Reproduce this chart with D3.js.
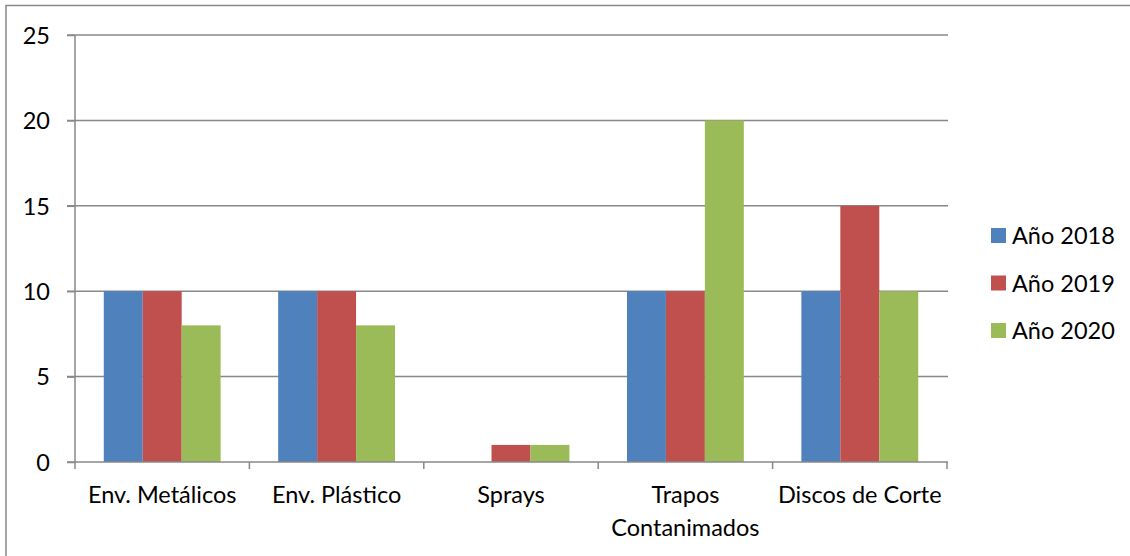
<!DOCTYPE html>
<html><head><meta charset="utf-8">
<script src="https://cdn.jsdelivr.net/npm/d3@7"></script>
<style>body{margin:0;background:#fff}svg{display:block}text{font-family:Lato,"Open Sans",sans-serif;fill:#000}</style>
</head><body>
<svg id="c" width="1130" height="556"></svg>
<script>
const categories = ["Env. Metálicos","Env. Plástico","Sprays","Trapos Contanimados","Discos de Corte"];
const seriesNames = ["Año 2018","Año 2019","Año 2020"];
const s2018 = [10,10,0,10,10];
const s2019 = [10,10,1,10,15];
const s2020 = [8,8,1,20,10];
const yTicks = [0,5,10,15,20,25];
const colors = ["#4F81BD","#C0504D","#9BBB59"];
const series = [s2018,s2019,s2020];

const svg = d3.select("#c");
const L=75,R=947,T=35,B=462;
const FS=23.5;
svg.append("rect").attr("x",6).attr("y",5.5).attr("width",1140).attr("height",560)
  .attr("fill","none").attr("stroke","#888").attr("stroke-width",1.5);

const x = d3.scaleBand().domain(categories).range([L,R]).paddingInner(0.33).paddingOuter(0.165);
const xg = d3.scaleBand().domain(seriesNames).range([0,x.bandwidth()]);
const y = d3.scaleLinear().domain([0,25]).range([B,T]);

// gridlines
svg.append("g").selectAll("line").data(yTicks.filter(d=>d>0)).join("line")
  .attr("x1",L-8).attr("x2",R+1).attr("y1",d=>y(d)).attr("y2",d=>y(d))
  .attr("stroke","#888").attr("stroke-width",1.5);

// bars
const gs = svg.append("g").selectAll("g").data(categories).join("g")
  .attr("transform",c=>`translate(${x(c)},0)`);
gs.selectAll("rect").data((c,i)=>series.map((s,k)=>({k,v:s[i]}))).join("rect")
  .attr("x",d=>xg(seriesNames[d.k])).attr("width",xg.bandwidth())
  .attr("y",d=>y(d.v)).attr("height",d=>B-y(d.v))
  .attr("fill",d=>colors[d.k]);

// y axis
const ya = svg.append("g").attr("transform",`translate(${L},0)`)
  .call(d3.axisLeft(y).tickValues(yTicks).tickSize(8).tickPadding(17));
ya.select(".domain").attr("stroke","#888").attr("stroke-width",1.5).attr("d",`M0,${T}V${B}`);
ya.selectAll(".tick line").attr("stroke","#888").attr("stroke-width",1.5);
ya.selectAll(".tick text").attr("font-size",FS).attr("font-family","Lato,sans-serif").attr("fill","#000").attr("dy","0.35em");

// x axis
const xa = svg.append("g").attr("transform",`translate(0,${B})`);
xa.append("line").attr("x1",L-8).attr("x2",R+1).attr("y1",0).attr("y2",0).attr("stroke","#888").attr("stroke-width",1.5);
const step = x.step();
xa.selectAll("line.t").data(d3.range(categories.length+1)).join("line").attr("class","t")
  .attr("x1",i=>L+i*step).attr("x2",i=>L+i*step).attr("y1",0).attr("y2",7)
  .attr("stroke","#888").attr("stroke-width",1.5);
const labelLines = {"Trapos Contanimados":["Trapos","Contanimados"]};
xa.selectAll("text").data(categories).join("text")
  .attr("text-anchor","middle").attr("font-size",FS)
  .attr("x",c=>x(c)+x.bandwidth()/2).attr("y",41)
  .each(function(c){
    const lines = labelLines[c]||[c];
    d3.select(this).selectAll("tspan").data(lines).join("tspan")
      .attr("x",x(c)+x.bandwidth()/2).attr("dy",(d,i)=>i?33:0).text(d=>d);
  });

// legend
const lg = svg.append("g").selectAll("g").data(seriesNames).join("g")
  .attr("transform",(d,i)=>`translate(991,${228+i*47.5})`);
lg.append("rect").attr("width",15).attr("height",15).attr("fill",(d,i)=>colors[i]);
lg.append("text").attr("x",21).attr("y",16).attr("font-size",FS).text(d=>d);
</script>
</body></html>
